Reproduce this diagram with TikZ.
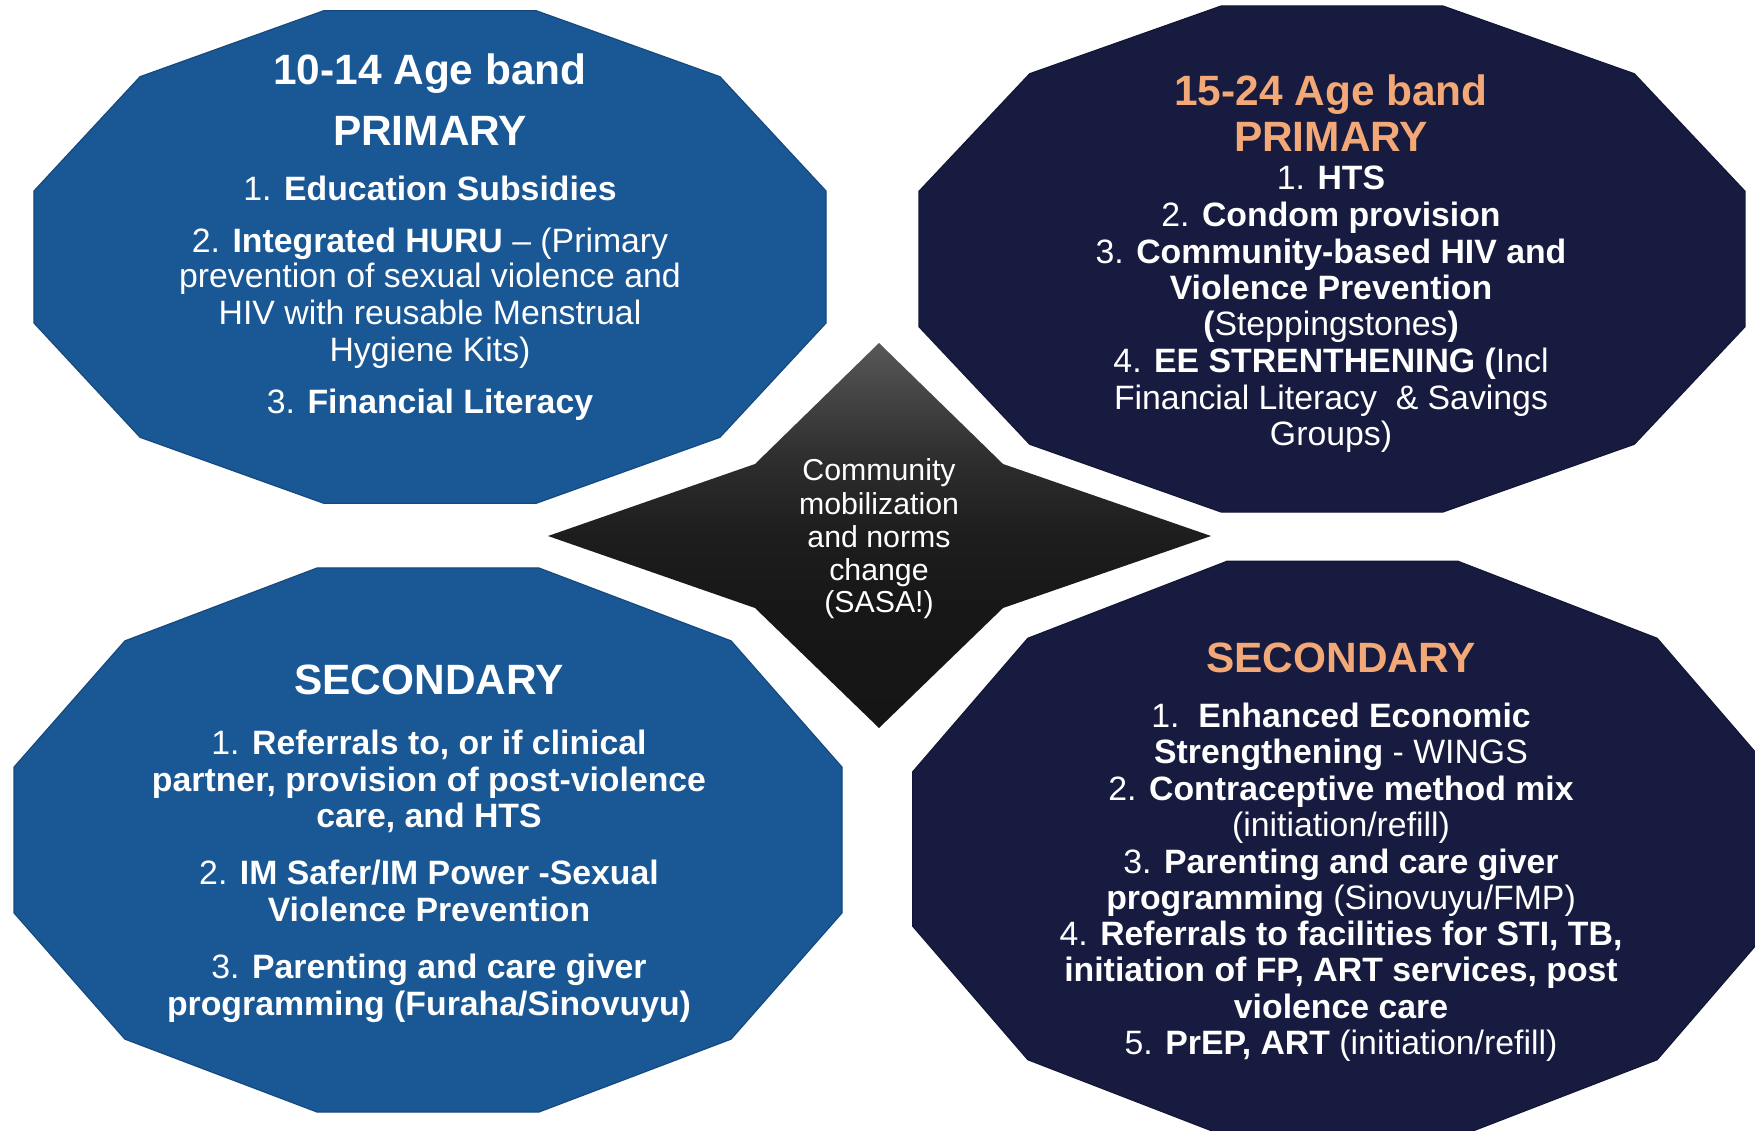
\documentclass[tikz,border=0pt]{standalone}
\usepackage{fontspec}
\setmainfont{Liberation Sans}
\definecolor{blueA}{HTML}{1A5795}
\definecolor{navyA}{HTML}{161B3F}
\definecolor{peach}{HTML}{F3A877}
\definecolor{starTop}{HTML}{575757}
\definecolor{starQ}{HTML}{2E2E2E}
\definecolor{starMid}{HTML}{1D1D1D}
\definecolor{starLow}{HTML}{171717}
\definecolor{starBot}{HTML}{151515}
\pgfdeclareverticalshading{starshade}{100bp}{color(0bp)=(starBot); color(25bp)=(starBot); color(40bp)=(starLow); color(50bp)=(starMid); color(60bp)=(starQ); color(75bp)=(starTop); color(100bp)=(starTop)}
\tikzset{
  ttl/.style={font=\fontsize{42.4}{48}\selectfont\bfseries, text=white, anchor=base, inner sep=0pt},
  bdy/.style={font=\fontsize{33.8}{36}\selectfont, text=white, anchor=base, inner sep=0pt},
  dtx/.style={font=\fontsize{30.3}{34}\selectfont, text=white, anchor=base, inner sep=0pt},
  blueshape/.style={fill=blueA, draw=blueA!85!black, line width=1.2pt},
  navyshape/.style={fill=navyA, draw=navyA!85!black, line width=1.2pt},
}
\begin{document}
\begin{tikzpicture}[x=1pt,y=-1pt]
\useasboundingbox (0,0) rectangle (1755,1131);
\fill[white] (0,0) rectangle (1755,1131);
\clip (0,0) rectangle (1755,1131);

% dodecagons
\begin{scope}[shift={(430,257)}]
  \path[blueshape] (15:410 and 255) \foreach \a in {45,75,...,345}{ -- (\a:410 and 255)} -- cycle;
\end{scope}
\begin{scope}[shift={(1332,259)}]
  \path[navyshape] (15:427.5 and 262) \foreach \a in {45,75,...,345}{ -- (\a:427.5 and 262)} -- cycle;
\end{scope}
\begin{scope}[shift={(428,840)}]
  \path[blueshape] (15:428.6 and 281.6) \foreach \a in {45,75,...,345}{ -- (\a:428.6 and 281.6)} -- cycle;
\end{scope}
\begin{scope}[shift={(1342.5,849)}]
  \path[navyshape] (15:445 and 298) \foreach \a in {45,75,...,345}{ -- (\a:445 and 298)} -- cycle;
\end{scope}

% four-point star
\shade[shading=starshade]
  (879,343) -- (1003,464) -- (1211,536) -- (1003,608) -- (879,728)
  -- (755,608) -- (548,536) -- (755,464) -- cycle;

% star text
\node[dtx] (s1) at (879,480) {Community};
\node[dtx] (s2) at (879,514) {mobilization};
\node[dtx] (s3) at (879,547) {and norms};
\node[dtx] (s4) at (879,580) {change};
\node[dtx] (s5) at (879,612) {(SASA!)};

% top-left
\node[ttl] (tl1) at (430,85) {10-14 Age band};
\node[ttl] (tl2) at (430,146) {PRIMARY};
\node[bdy] (tl3) at (430,201) {1. \textbf{Education Subsidies}};
\node[bdy] (tl4) at (430,253) {2. \textbf{Integrated HURU} – (Primary};
\node[bdy] (tl5) at (430,288) {prevention of sexual violence and};
\node[bdy] (tl6) at (430,325) {HIV with reusable Menstrual};
\node[bdy] (tl7) at (430,361) {Hygiene Kits)};
\node[bdy] (tl8) at (430,413) {3. \textbf{Financial Literacy}};

% top-right
\node[ttl, text=peach] (tr1) at (1331,106) {15-24 Age band};
\node[ttl, text=peach] (tr2) at (1331,152) {PRIMARY};
\node[bdy] (tr3) at (1331,190) {1. \textbf{HTS}};
\node[bdy] (tr4) at (1331,227) {2. \textbf{Condom provision}};
\node[bdy] (tr5) at (1331,264) {3. \textbf{Community-based HIV and}};
\node[bdy] (tr6) at (1331,300) {\textbf{Violence Prevention}};
\node[bdy] (tr7) at (1331,336) {\textbf{(}Steppingstones\textbf{)}};
\node[bdy] (tr8) at (1331,372) {4. \textbf{EE STRENTHENING (}Incl};
\node[bdy] (tr9) at (1331,409) {Financial Literacy\ \ \& Savings};
\node[bdy] (tr10) at (1331,445) {Groups)};

% bottom-left
\node[ttl] (bl1) at (429,694) {SECONDARY};
\node[bdy] (bl2) at (429,754.5) {1. \textbf{Referrals to, or if clinical}};
\node[bdy] (bl3) at (429,791.5) {\textbf{partner, provision of post-violence}};
\node[bdy] (bl4) at (429,827.5) {\textbf{care, and HTS}};
\node[bdy] (bl5) at (429,884.5) {2. \textbf{IM Safer/IM Power -Sexual}};
\node[bdy] (bl6) at (429,921.5) {\textbf{Violence Prevention}};
\node[bdy] (bl7) at (429,978.5) {3. \textbf{Parenting and care giver}};
\node[bdy] (bl8) at (429,1015.5) {\textbf{programming (Furaha/Sinovuyu)}};

% bottom-right
\node[ttl, text=peach] (br1) at (1341,672) {SECONDARY};
\node[bdy] (br2) at (1341,727.5) {1.\ \ \textbf{Enhanced Economic}};
\node[bdy] (br3) at (1341,763.5) {\textbf{Strengthening} - WINGS};
\node[bdy] (br4) at (1341,800.5) {2. \textbf{Contraceptive method mix}};
\node[bdy] (br5) at (1341,836.5) {(initiation/refill)};
\node[bdy] (br6) at (1341,873.5) {3. \textbf{Parenting and care giver}};
\node[bdy] (br7) at (1341,909.5) {\textbf{programming} (Sinovuyu/FMP)};
\node[bdy] (br8) at (1341,945.5) {4. \textbf{Referrals to facilities for STI, TB,}};
\node[bdy] (br9) at (1341,981.5) {\textbf{initiation of FP, ART services, post}};
\node[bdy] (br10) at (1341,1018.5) {\textbf{violence care}};
\node[bdy] (br11) at (1341,1054.5) {5. \textbf{PrEP, ART} (initiation/refill)};
\end{tikzpicture}
\end{document}
